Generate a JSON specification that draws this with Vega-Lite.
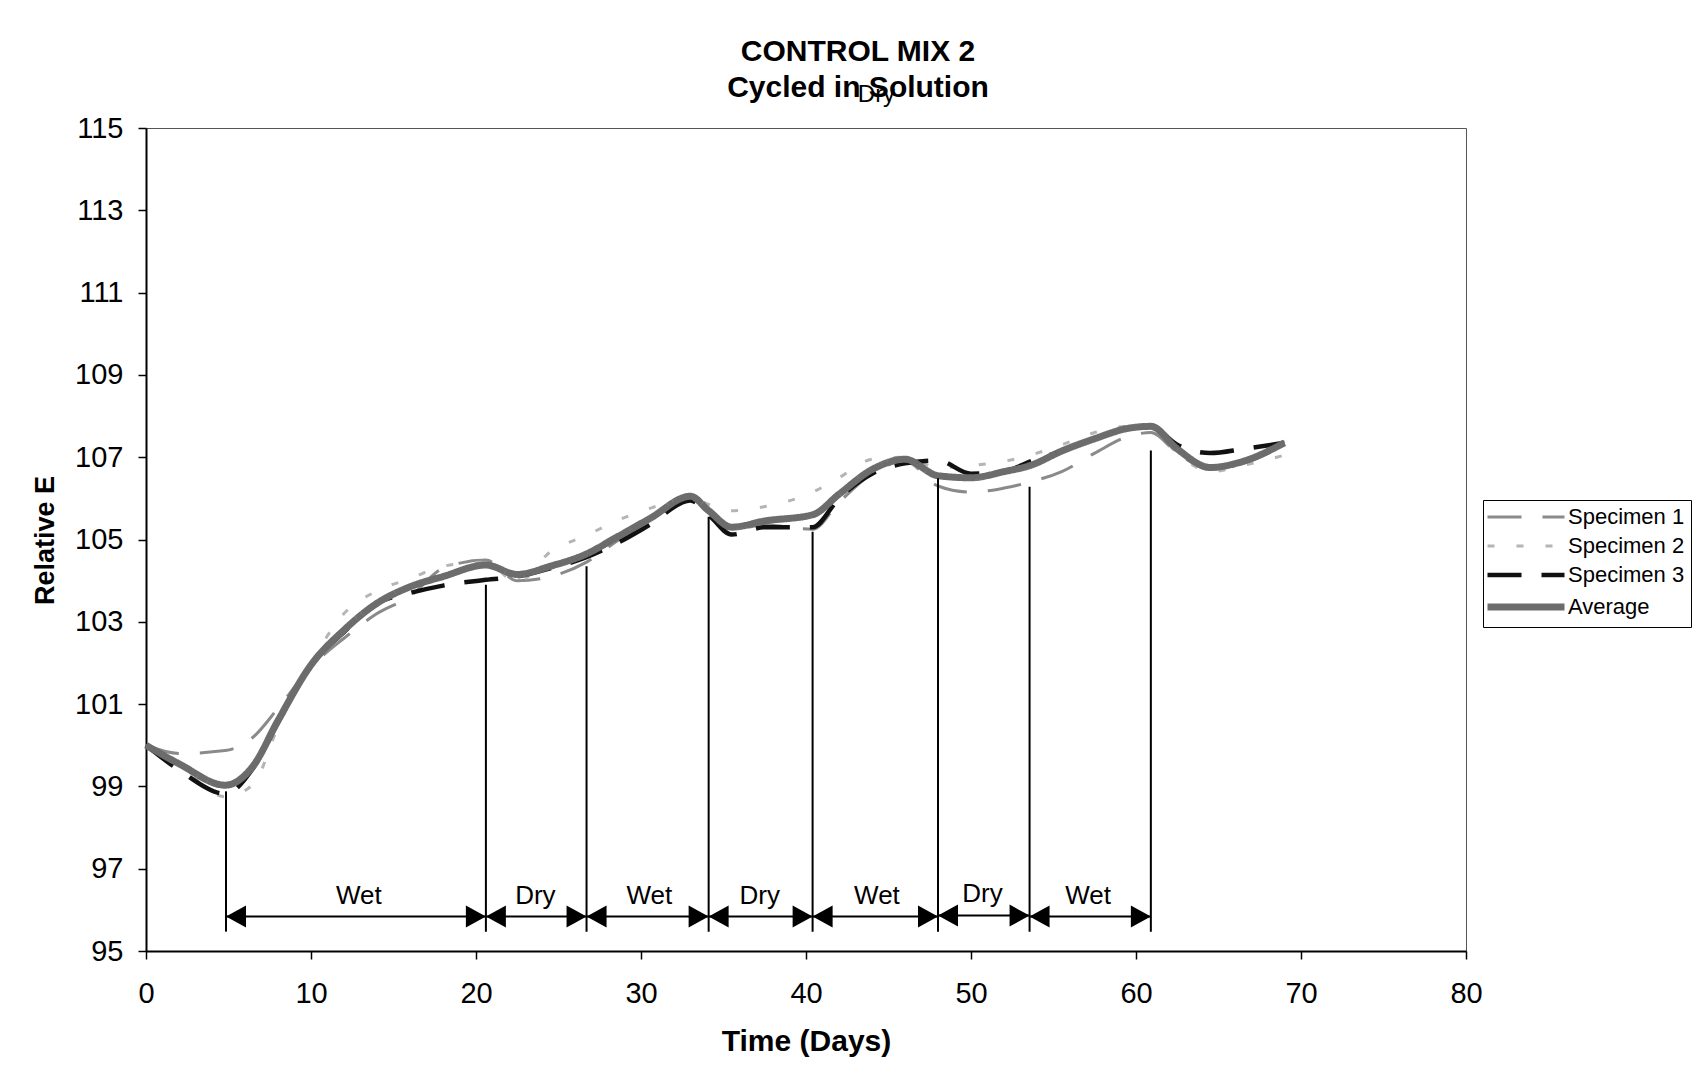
{
  "$schema": "https://vega.github.io/schema/vega-lite/v6.json",
  "width": 1320,
  "height": 823,
  "autosize": {"type": "none"},
  "padding": {"left": 146, "top": 128, "right": 236, "bottom": 119},
  "background": "white",
  "config": {
    "font": "Liberation Sans",
    "view": {"stroke": "#555", "strokeWidth": 1},
    "axis": {
      "grid": false,
      "domainColor": "#000",
      "domainWidth": 2,
      "tickColor": "#000",
      "tickWidth": 1.5,
      "tickSize": 8,
      "labelColor": "#000",
      "labelFont": "Liberation Sans",
      "labelFontSize": 29,
      "titleFont": "Liberation Sans",
      "titleFontSize": 30,
      "titleFontWeight": "bold",
      "titleColor": "#000"
    }
  },
  "title": {
    "text": ["CONTROL MIX 2", "Cycled in Solution"],
    "font": "Liberation Sans",
    "fontSize": 30,
    "fontWeight": "bold",
    "color": "#000",
    "lineHeight": 36,
    "anchor": "middle",
    "baseline": "bottom",
    "dx": 52,
    "offset": -50
  },
  "datasets": {
    "readings": [
      {"series": "Specimen 1", "day": 0, "value": 100.0},
      {"series": "Specimen 1", "day": 2, "value": 99.8},
      {"series": "Specimen 1", "day": 4.8, "value": 99.87},
      {"series": "Specimen 1", "day": 6.5, "value": 100.2},
      {"series": "Specimen 1", "day": 8, "value": 100.9},
      {"series": "Specimen 1", "day": 10, "value": 101.9},
      {"series": "Specimen 1", "day": 12, "value": 102.6},
      {"series": "Specimen 1", "day": 14, "value": 103.2},
      {"series": "Specimen 1", "day": 16, "value": 103.62},
      {"series": "Specimen 1", "day": 18, "value": 104.3},
      {"series": "Specimen 1", "day": 20.6, "value": 104.5},
      {"series": "Specimen 1", "day": 22.5, "value": 104.0},
      {"series": "Specimen 1", "day": 24.5, "value": 104.1},
      {"series": "Specimen 1", "day": 26.7, "value": 104.45},
      {"series": "Specimen 1", "day": 28.5, "value": 104.95},
      {"series": "Specimen 1", "day": 30.5, "value": 105.45},
      {"series": "Specimen 1", "day": 33, "value": 106.0},
      {"series": "Specimen 1", "day": 34.1, "value": 105.65},
      {"series": "Specimen 1", "day": 35.5, "value": 105.25},
      {"series": "Specimen 1", "day": 37.5, "value": 105.35},
      {"series": "Specimen 1", "day": 40.4, "value": 105.25},
      {"series": "Specimen 1", "day": 42, "value": 105.9},
      {"series": "Specimen 1", "day": 44, "value": 106.6},
      {"series": "Specimen 1", "day": 46, "value": 106.9},
      {"series": "Specimen 1", "day": 48, "value": 106.3},
      {"series": "Specimen 1", "day": 50, "value": 106.15},
      {"series": "Specimen 1", "day": 52, "value": 106.25},
      {"series": "Specimen 1", "day": 53.6, "value": 106.4},
      {"series": "Specimen 1", "day": 55.5, "value": 106.65},
      {"series": "Specimen 1", "day": 57.5, "value": 107.1},
      {"series": "Specimen 1", "day": 59.5, "value": 107.5},
      {"series": "Specimen 1", "day": 60.9, "value": 107.6},
      {"series": "Specimen 1", "day": 62.5, "value": 107.1},
      {"series": "Specimen 1", "day": 64.5, "value": 106.7},
      {"series": "Specimen 1", "day": 66.5, "value": 106.85},
      {"series": "Specimen 1", "day": 69, "value": 107.3},

      {"series": "Specimen 2", "day": 0, "value": 100.0},
      {"series": "Specimen 2", "day": 2, "value": 99.5},
      {"series": "Specimen 2", "day": 4.8, "value": 98.75},
      {"series": "Specimen 2", "day": 6.5, "value": 99.05},
      {"series": "Specimen 2", "day": 8, "value": 100.45},
      {"series": "Specimen 2", "day": 10, "value": 102.0},
      {"series": "Specimen 2", "day": 12, "value": 103.2},
      {"series": "Specimen 2", "day": 14, "value": 103.75},
      {"series": "Specimen 2", "day": 16, "value": 104.05},
      {"series": "Specimen 2", "day": 18, "value": 104.35},
      {"series": "Specimen 2", "day": 20.6, "value": 104.45},
      {"series": "Specimen 2", "day": 22.5, "value": 103.95},
      {"series": "Specimen 2", "day": 24.5, "value": 104.7},
      {"series": "Specimen 2", "day": 26.7, "value": 105.1},
      {"series": "Specimen 2", "day": 28.5, "value": 105.45},
      {"series": "Specimen 2", "day": 30.5, "value": 105.75},
      {"series": "Specimen 2", "day": 33, "value": 106.05},
      {"series": "Specimen 2", "day": 34.1, "value": 105.85},
      {"series": "Specimen 2", "day": 35.5, "value": 105.7},
      {"series": "Specimen 2", "day": 37.5, "value": 105.8},
      {"series": "Specimen 2", "day": 40.4, "value": 106.15},
      {"series": "Specimen 2", "day": 42, "value": 106.5},
      {"series": "Specimen 2", "day": 44, "value": 106.95},
      {"series": "Specimen 2", "day": 46, "value": 107.0},
      {"series": "Specimen 2", "day": 48, "value": 106.75},
      {"series": "Specimen 2", "day": 50, "value": 106.8},
      {"series": "Specimen 2", "day": 52, "value": 106.9},
      {"series": "Specimen 2", "day": 53.6, "value": 107.05},
      {"series": "Specimen 2", "day": 55.5, "value": 107.3},
      {"series": "Specimen 2", "day": 57.5, "value": 107.6},
      {"series": "Specimen 2", "day": 59.5, "value": 107.75},
      {"series": "Specimen 2", "day": 60.9, "value": 107.7},
      {"series": "Specimen 2", "day": 62.5, "value": 107.1},
      {"series": "Specimen 2", "day": 64.5, "value": 106.65},
      {"series": "Specimen 2", "day": 66.5, "value": 106.8},
      {"series": "Specimen 2", "day": 69, "value": 107.05},

      {"series": "Specimen 3", "day": 0, "value": 100.0},
      {"series": "Specimen 3", "day": 2, "value": 99.4},
      {"series": "Specimen 3", "day": 4.8, "value": 98.82},
      {"series": "Specimen 3", "day": 6.5, "value": 99.45},
      {"series": "Specimen 3", "day": 8, "value": 100.55},
      {"series": "Specimen 3", "day": 10, "value": 101.95},
      {"series": "Specimen 3", "day": 12, "value": 102.75},
      {"series": "Specimen 3", "day": 14, "value": 103.45},
      {"series": "Specimen 3", "day": 16, "value": 103.7},
      {"series": "Specimen 3", "day": 18, "value": 103.88},
      {"series": "Specimen 3", "day": 20.6, "value": 104.02},
      {"series": "Specimen 3", "day": 22.5, "value": 104.1},
      {"series": "Specimen 3", "day": 24.5, "value": 104.3},
      {"series": "Specimen 3", "day": 26.7, "value": 104.57},
      {"series": "Specimen 3", "day": 28.5, "value": 104.9},
      {"series": "Specimen 3", "day": 30.5, "value": 105.35},
      {"series": "Specimen 3", "day": 33, "value": 105.95},
      {"series": "Specimen 3", "day": 34.1, "value": 105.6},
      {"series": "Specimen 3", "day": 35.5, "value": 105.12},
      {"series": "Specimen 3", "day": 37.5, "value": 105.3},
      {"series": "Specimen 3", "day": 40.4, "value": 105.3},
      {"series": "Specimen 3", "day": 42, "value": 106.0},
      {"series": "Specimen 3", "day": 44, "value": 106.6},
      {"series": "Specimen 3", "day": 46, "value": 106.85},
      {"series": "Specimen 3", "day": 48, "value": 106.92},
      {"series": "Specimen 3", "day": 50, "value": 106.6},
      {"series": "Specimen 3", "day": 52, "value": 106.65},
      {"series": "Specimen 3", "day": 53.6, "value": 106.9},
      {"series": "Specimen 3", "day": 55.5, "value": 107.15},
      {"series": "Specimen 3", "day": 57.5, "value": 107.45},
      {"series": "Specimen 3", "day": 59.5, "value": 107.7},
      {"series": "Specimen 3", "day": 60.9, "value": 107.75},
      {"series": "Specimen 3", "day": 62.5, "value": 107.3},
      {"series": "Specimen 3", "day": 64.5, "value": 107.1},
      {"series": "Specimen 3", "day": 66.5, "value": 107.2},
      {"series": "Specimen 3", "day": 69, "value": 107.35},

      {"series": "Average", "day": 0, "value": 100.0},
      {"series": "Average", "day": 2, "value": 99.55},
      {"series": "Average", "day": 4.8, "value": 99.03},
      {"series": "Average", "day": 6.5, "value": 99.5},
      {"series": "Average", "day": 8, "value": 100.6},
      {"series": "Average", "day": 10, "value": 101.95},
      {"series": "Average", "day": 12, "value": 102.8},
      {"series": "Average", "day": 14, "value": 103.45},
      {"series": "Average", "day": 16, "value": 103.85},
      {"series": "Average", "day": 18, "value": 104.1},
      {"series": "Average", "day": 20.6, "value": 104.38},
      {"series": "Average", "day": 22.5, "value": 104.15},
      {"series": "Average", "day": 24.5, "value": 104.35},
      {"series": "Average", "day": 26.7, "value": 104.65},
      {"series": "Average", "day": 28.5, "value": 105.05},
      {"series": "Average", "day": 30.5, "value": 105.5},
      {"series": "Average", "day": 33, "value": 106.05},
      {"series": "Average", "day": 34.1, "value": 105.7},
      {"series": "Average", "day": 35.5, "value": 105.3},
      {"series": "Average", "day": 37.5, "value": 105.45},
      {"series": "Average", "day": 40.4, "value": 105.6},
      {"series": "Average", "day": 42, "value": 106.1},
      {"series": "Average", "day": 44, "value": 106.7},
      {"series": "Average", "day": 46, "value": 106.95},
      {"series": "Average", "day": 48, "value": 106.55},
      {"series": "Average", "day": 50, "value": 106.5},
      {"series": "Average", "day": 52, "value": 106.65},
      {"series": "Average", "day": 53.6, "value": 106.8},
      {"series": "Average", "day": 55.5, "value": 107.15},
      {"series": "Average", "day": 57.5, "value": 107.45},
      {"series": "Average", "day": 59.5, "value": 107.7},
      {"series": "Average", "day": 60.9, "value": 107.75},
      {"series": "Average", "day": 62.5, "value": 107.2},
      {"series": "Average", "day": 64.5, "value": 106.75},
      {"series": "Average", "day": 66.5, "value": 106.9},
      {"series": "Average", "day": 69, "value": 107.35}
    ],
    "boundaries": [
      {"day": 4.85, "top": 98.88, "bottom": 95.47},
      {"day": 20.6, "top": 103.9, "bottom": 95.47},
      {"day": 26.7, "top": 104.35, "bottom": 95.47},
      {"day": 34.1, "top": 105.55, "bottom": 95.47},
      {"day": 40.4, "top": 105.19, "bottom": 95.47},
      {"day": 48.0, "top": 106.49, "bottom": 95.47},
      {"day": 53.55, "top": 106.28, "bottom": 95.47},
      {"day": 60.9, "top": 107.16, "bottom": 95.47}
    ],
    "phases": [
      {"phase": "Wet", "start": 4.85, "end": 20.6, "mid": 12.9, "arrow": 95.84, "labelAt": 96.15},
      {"phase": "Dry", "start": 20.6, "end": 26.7, "mid": 23.6, "arrow": 95.84, "labelAt": 96.15},
      {"phase": "Wet", "start": 26.7, "end": 34.1, "mid": 30.5, "arrow": 95.84, "labelAt": 96.15},
      {"phase": "Dry", "start": 34.1, "end": 40.4, "mid": 37.2, "arrow": 95.84, "labelAt": 96.15},
      {"phase": "Wet", "start": 40.4, "end": 48.0, "mid": 44.3, "arrow": 95.84, "labelAt": 96.15},
      {"phase": "Dry", "start": 48.0, "end": 53.55, "mid": 50.7, "arrow": 95.86, "labelAt": 96.18},
      {"phase": "Wet", "start": 53.55, "end": 60.9, "mid": 57.1, "arrow": 95.84, "labelAt": 96.15}
    ],
    "notes": [
      {"text": "Dry", "day": 44.27, "value": 115.64}
    ]
  },
  "layer": [
    {
      "data": {"name": "readings"},
      "mark": {"type": "line", "interpolate": "monotone", "strokeCap": "butt", "strokeJoin": "round"},
      "encoding": {
        "x": {
          "field": "day",
          "type": "quantitative",
          "scale": {"domain": [0, 80], "nice": false, "zero": false},
          "axis": {
            "values": [0, 10, 20, 30, 40, 50, 60, 70, 80],
            "title": "Time (Days)",
            "labelPadding": 20,
            "labelFlush": false,
            "titleY": 90,
            "titleBaseline": "middle"
          }
        },
        "y": {
          "field": "value",
          "type": "quantitative",
          "scale": {"domain": [95, 115], "nice": false, "zero": false},
          "axis": {
            "values": [95, 97, 99, 101, 103, 105, 107, 109, 111, 113, 115],
            "title": "Relative E",
            "titleFontSize": 27,
            "labelPadding": 15,
            "labelFlush": false,
            "titleX": -101,
            "titleY": 412,
            "titleAngle": -90,
            "titleBaseline": "middle"
          }
        },
        "color": {
          "field": "series",
          "type": "nominal",
          "scale": {
            "domain": ["Specimen 1", "Specimen 2", "Specimen 3", "Average"],
            "range": ["#8a8a8a", "#b5b5b5", "#111111", "#6c6c6c"]
          },
          "legend": {
            "title": null,
            "orient": "none",
            "legendX": 1337,
            "legendY": 372,
            "padding": 6,
            "strokeColor": "#000",
            "fillColor": "#fff",
            "symbolType": "M-3.5,0H3.5",
            "symbolSize": 484,
            "symbolOffset": 26,
            "labelOffset": 31,
            "labelFont": "Liberation Sans",
            "labelFontSize": 22,
            "labelColor": "#000",
            "rowPadding": 7,
            "encode": {
              "symbols": {
                "update": {
                  "strokeWidth": {"signal": "datum.value === 'Average' ? 7 : datum.value === 'Specimen 3' ? 4.5 : 3"}
                }
              }
            }
          }
        },
        "strokeDash": {
          "field": "series",
          "type": "nominal",
          "scale": {
            "domain": ["Specimen 1", "Specimen 2", "Specimen 3", "Average"],
            "range": [[34, 21], [7, 22], [34, 20], [1, 0]]
          }
        },
        "strokeWidth": {
          "condition": [
            {"test": "datum.series === 'Average'", "value": 7},
            {"test": "datum.series === 'Specimen 3'", "value": 4.5}
          ],
          "value": 3
        }
      }
    },
    {
      "data": {"name": "boundaries"},
      "mark": {"type": "rule", "color": "#000", "strokeWidth": 2},
      "encoding": {
        "x": {"field": "day", "type": "quantitative"},
        "y": {"field": "bottom", "type": "quantitative"},
        "y2": {"field": "top"}
      }
    },
    {
      "data": {"name": "phases"},
      "mark": {"type": "rule", "color": "#000", "strokeWidth": 2},
      "encoding": {
        "x": {"field": "start", "type": "quantitative"},
        "x2": {"field": "end"},
        "y": {"field": "arrow", "type": "quantitative"}
      }
    },
    {
      "data": {"name": "phases"},
      "mark": {"type": "point", "shape": "M0,0L2,-1.1L2,1.1Z", "size": 400, "filled": true, "color": "#000", "opacity": 1, "strokeWidth": 0},
      "encoding": {
        "x": {"field": "start", "type": "quantitative"},
        "y": {"field": "arrow", "type": "quantitative"}
      }
    },
    {
      "data": {"name": "phases"},
      "mark": {"type": "point", "shape": "M0,0L-2,-1.1L-2,1.1Z", "size": 400, "filled": true, "color": "#000", "opacity": 1, "strokeWidth": 0},
      "encoding": {
        "x": {"field": "end", "type": "quantitative"},
        "y": {"field": "arrow", "type": "quantitative"}
      }
    },
    {
      "data": {"name": "phases"},
      "mark": {"type": "text", "font": "Liberation Sans", "fontSize": 26, "color": "#000", "align": "center", "baseline": "alphabetic"},
      "encoding": {
        "x": {"field": "mid", "type": "quantitative"},
        "y": {"field": "labelAt", "type": "quantitative"},
        "text": {"field": "phase"}
      }
    },
    {
      "data": {"name": "notes"},
      "mark": {"type": "text", "font": "Liberation Sans", "fontSize": 24, "color": "#000", "align": "center", "baseline": "alphabetic"},
      "encoding": {
        "x": {"field": "day", "type": "quantitative"},
        "y": {"field": "value", "type": "quantitative"},
        "text": {"field": "text"}
      }
    }
  ]
}
